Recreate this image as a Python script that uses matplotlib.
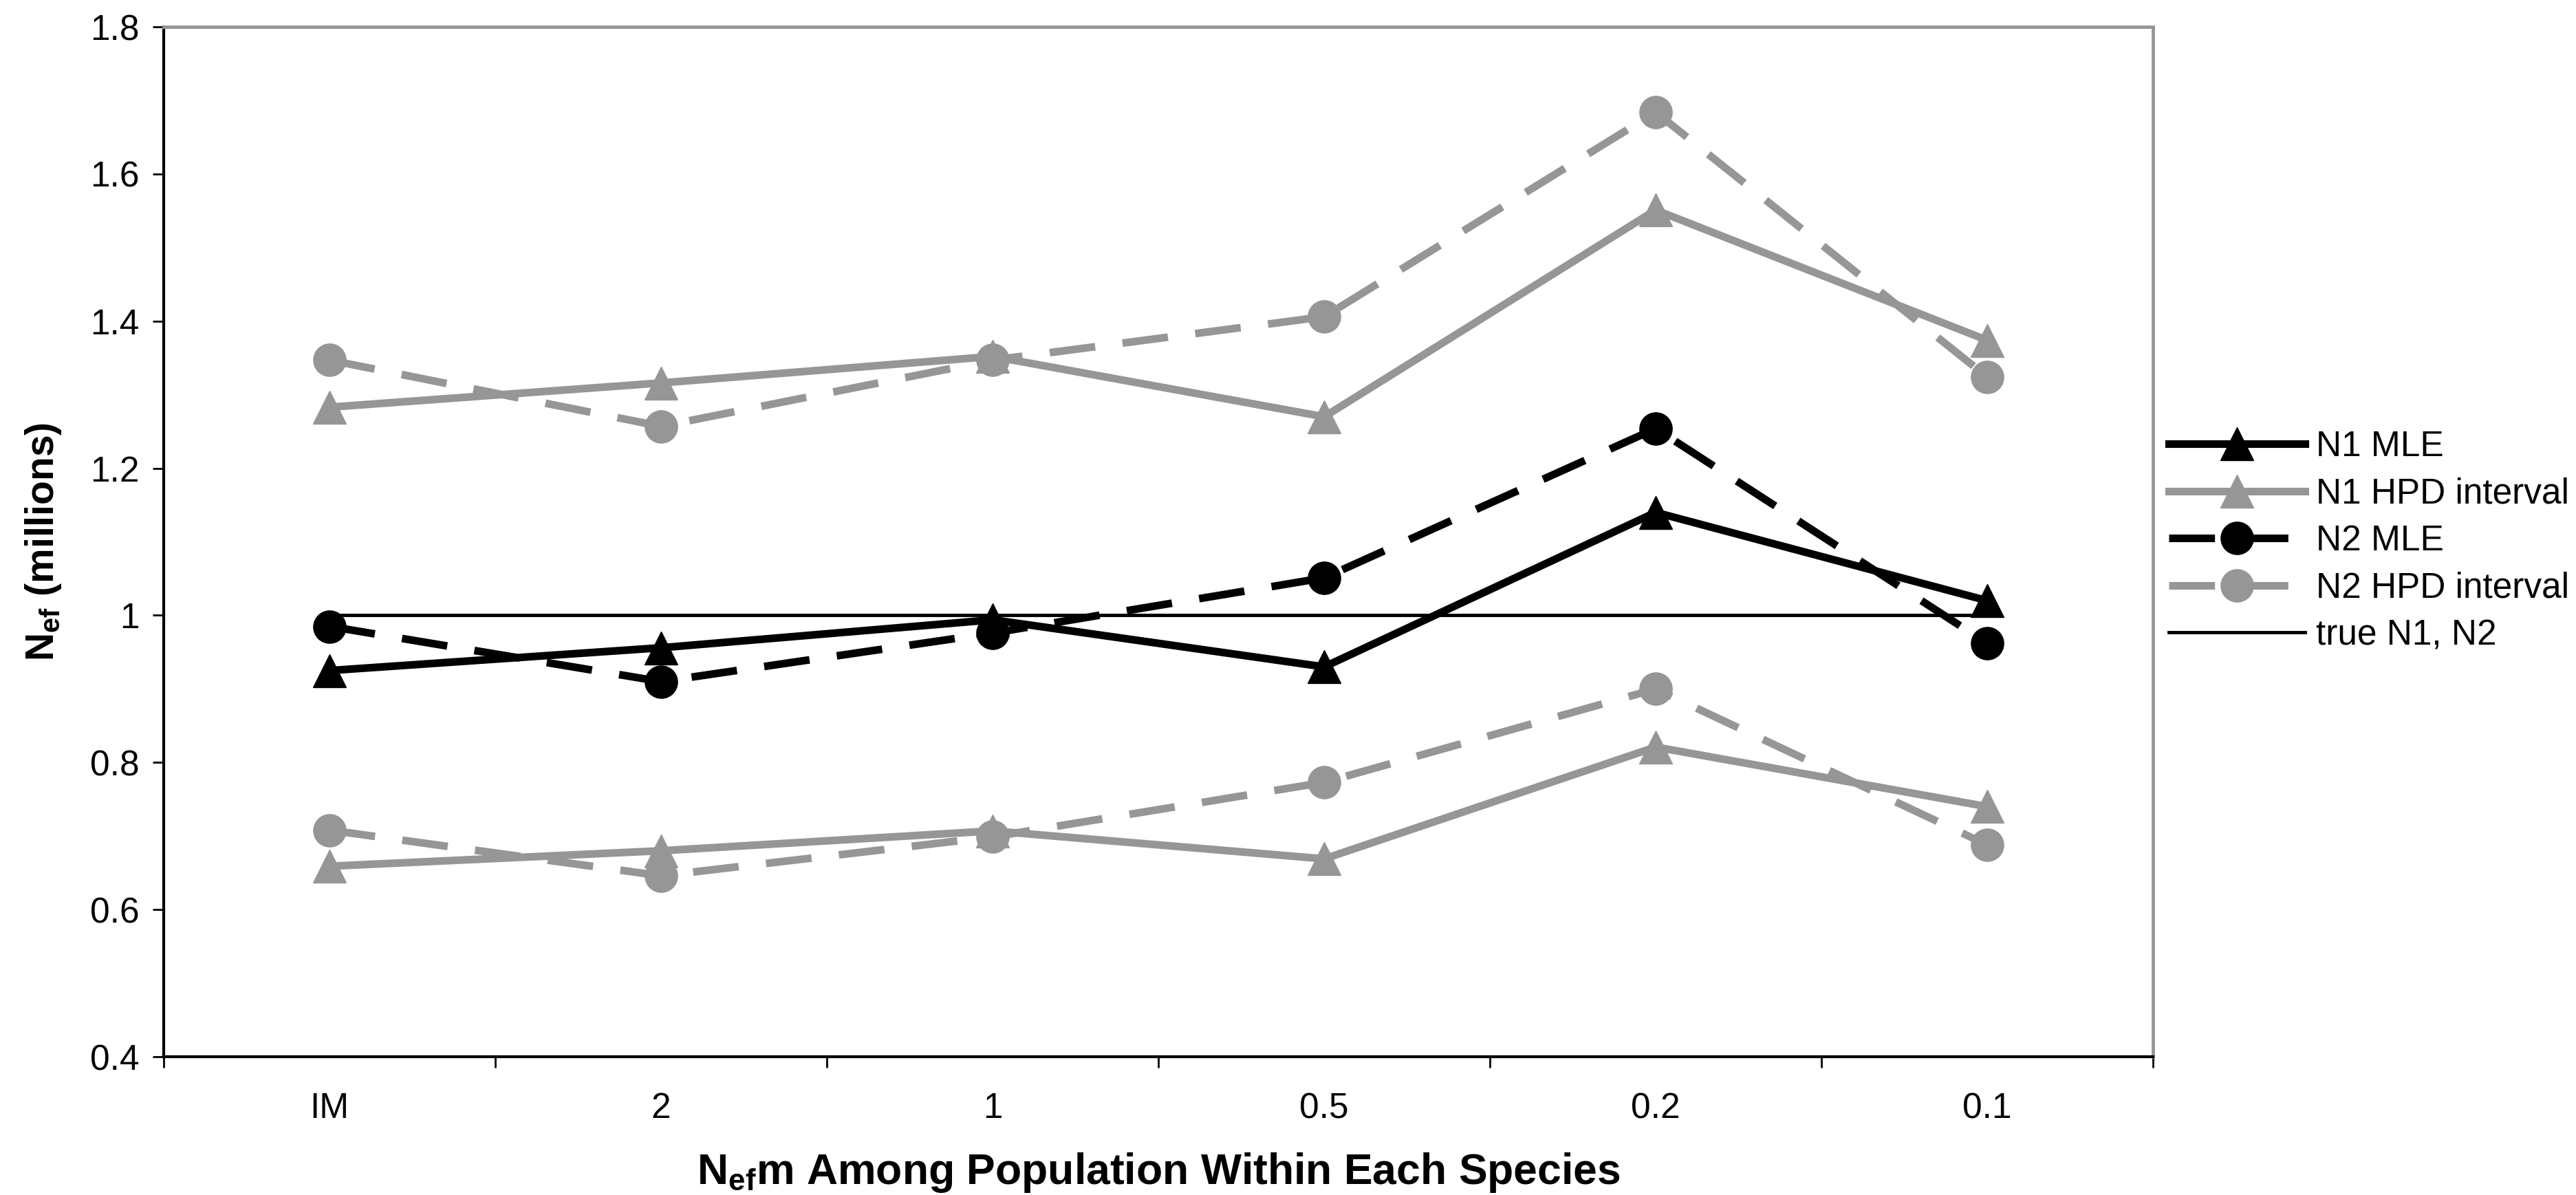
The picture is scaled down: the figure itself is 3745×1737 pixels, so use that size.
import matplotlib.pyplot as plt
import numpy as np

plt.rcParams['font.family'] = ['Liberation Sans', 'DejaVu Sans']
plt.rcParams['mathtext.default'] = 'regular'

migration = ['IM', '2', '1', '0.5', '0.2', '0.1']

n1_mle = [0.925, 0.956, 0.994, 0.930, 1.140, 1.020]
n1_hpd_low = [0.659, 0.680, 0.707, 0.669, 0.821, 0.740]
n1_hpd_high = [1.283, 1.316, 1.352, 1.270, 1.551, 1.374]

n2_mle = [0.985, 0.910, 0.976, 1.051, 1.254, 0.962]
n2_hpd_low = [0.708, 0.646, 0.699, 0.773, 0.900, 0.688]
n2_hpd_high = [1.347, 1.257, 1.347, 1.406, 1.684, 1.324]

true_n = 1.0

GRAY = '#969696'
LW = 8
MS_TRI = 34
MS_DOT = 34
dash = (6, 3.6)

fig = plt.figure(figsize=(37.45, 17.37), dpi=100)
ax = fig.add_axes([0.0636, 0.1157, 0.7722, 0.8618])

x = np.arange(len(migration))

# true value across the whole category range
ax.plot([x[0], x[-1]], [true_n, true_n], color='black', lw=3.5,
        label='true N1, N2', zorder=2)

ax.plot(x, n1_hpd_high, color=GRAY, lw=LW, marker='^', ms=MS_TRI,
        label='N1 HPD interval', zorder=3)
ax.plot(x, n1_hpd_low, color=GRAY, lw=LW, marker='^', ms=MS_TRI, zorder=3)
ax.plot(x, n2_hpd_high, color=GRAY, lw=LW, dashes=dash, marker='o', ms=MS_DOT,
        label='N2 HPD interval', zorder=3)
ax.plot(x, n2_hpd_low, color=GRAY, lw=LW, dashes=dash, marker='o', ms=MS_DOT,
        zorder=3)
ax.plot(x, n1_mle, color='black', lw=LW, marker='^', ms=MS_TRI,
        label='N1 MLE', zorder=4)
ax.plot(x, n2_mle, color='black', lw=LW, dashes=dash, marker='o', ms=MS_DOT,
        label='N2 MLE', zorder=4)

ax.set_xlim(-0.5, len(migration) - 0.5)
ax.set_ylim(0.4, 1.8)

yt = np.arange(0.4, 1.81, 0.2)
ax.set_yticks(yt)
ax.set_yticklabels(['%g' % round(v, 1) for v in yt])

# boundaries get the tick marks, category names sit in between
ax.set_xticks(np.arange(-0.5, len(migration), 1.0))
ax.set_xticklabels([])
ax.set_xticks(x, minor=True)
ax.set_xticklabels(migration, minor=True)

ax.tick_params(axis='both', which='major', direction='out', length=11.5,
               width=2, labelsize=37, color='black')
ax.tick_params(axis='y', pad=14)
ax.tick_params(axis='x', which='minor', length=0, labelsize=37, pad=37)

for side in ['left', 'bottom']:
    ax.spines[side].set_color('black')
    ax.spines[side].set_linewidth(3)
for side in ['top', 'right']:
    ax.spines[side].set_color(GRAY)
    ax.spines[side].set_linewidth(3.5)

ax.set_ylabel('N$_{ef}$ (millions)', fontsize=41, fontweight='bold', labelpad=28)
ax.set_xlabel('N$_{ef}$m Among Population Within Each Species', fontsize=45,
              fontweight='bold', labelpad=26)

handles, labels = ax.get_legend_handles_labels()
order = ['N1 MLE', 'N1 HPD interval', 'N2 MLE', 'N2 HPD interval', 'true N1, N2']
hmap = dict(zip(labels, handles))
fig.legend([hmap[k] for k in order], order, loc='center left',
           bbox_to_anchor=(0.842, 0.547), frameon=False, fontsize=37,
           handlelength=3.85, handletextpad=0.3, labelspacing=0.38,
           borderpad=0, borderaxespad=0)

fig.savefig('out.png', dpi=100)
